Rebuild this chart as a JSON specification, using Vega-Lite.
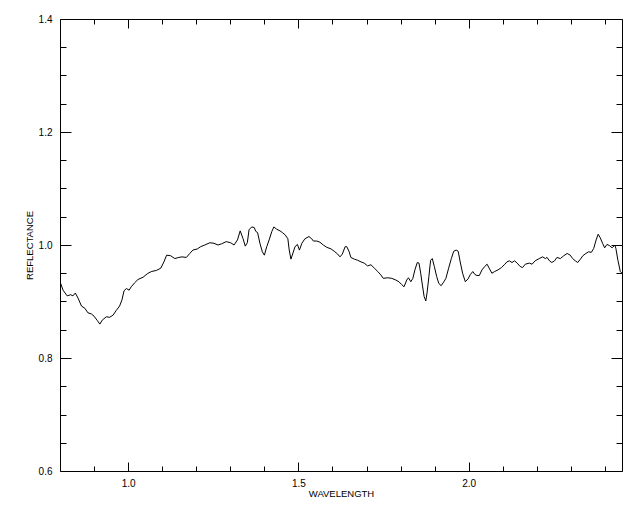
{
  "$schema": "https://vega.github.io/schema/vega-lite/v6.json",
  "width": 562,
  "height": 452,
  "autosize": {"type": "none"},
  "padding": {"left": 60, "top": 19, "right": 18, "bottom": 41},
  "background": "white",
  "config": {
    "view": {"stroke": "black", "strokeWidth": 1},
    "axis": {"grid": false, "domain": false, "tickColor": "black", "labelColor": "black", "titleColor": "black", "labelFont": "Liberation Sans", "titleFont": "Liberation Sans", "labelFontSize": 10, "titleFontSize": 9.5, "titleFontWeight": "normal", "tickWidth": 1}
  },
  "data": {"values": [
    {"w":0.802,"r":0.932},{"w":0.809,"r":0.920},{"w":0.821,"r":0.910},{"w":0.831,"r":0.912},{"w":0.838,"r":0.910},
    {"w":0.845,"r":0.915},{"w":0.853,"r":0.906},{"w":0.863,"r":0.892},{"w":0.873,"r":0.888},{"w":0.882,"r":0.880},
    {"w":0.892,"r":0.878},{"w":0.900,"r":0.874},{"w":0.910,"r":0.866},{"w":0.917,"r":0.860},{"w":0.924,"r":0.867},
    {"w":0.936,"r":0.873},{"w":0.946,"r":0.872},{"w":0.956,"r":0.876},{"w":0.965,"r":0.884},{"w":0.975,"r":0.892},
    {"w":0.982,"r":0.903},{"w":0.988,"r":0.919},{"w":0.995,"r":0.923},{"w":1.003,"r":0.920},{"w":1.009,"r":0.926},
    {"w":1.019,"r":0.933},{"w":1.029,"r":0.939},{"w":1.044,"r":0.943},{"w":1.056,"r":0.949},{"w":1.068,"r":0.953},
    {"w":1.083,"r":0.955},{"w":1.096,"r":0.959},{"w":1.105,"r":0.970},{"w":1.113,"r":0.982},{"w":1.125,"r":0.981},
    {"w":1.137,"r":0.976},{"w":1.149,"r":0.978},{"w":1.158,"r":0.979},{"w":1.171,"r":0.978},{"w":1.181,"r":0.985},
    {"w":1.190,"r":0.991},{"w":1.203,"r":0.993},{"w":1.213,"r":0.997},{"w":1.225,"r":1.000},{"w":1.240,"r":1.004},
    {"w":1.252,"r":1.003},{"w":1.264,"r":1.000},{"w":1.274,"r":1.002},{"w":1.288,"r":1.006},{"w":1.301,"r":1.004},
    {"w":1.311,"r":1.000},{"w":1.321,"r":1.009},{"w":1.329,"r":1.025},{"w":1.337,"r":1.012},{"w":1.344,"r":0.998},
    {"w":1.350,"r":1.004},{"w":1.355,"r":1.027},{"w":1.363,"r":1.032},{"w":1.370,"r":1.031},{"w":1.375,"r":1.024},
    {"w":1.380,"r":1.022},{"w":1.387,"r":1.003},{"w":1.394,"r":0.988},{"w":1.400,"r":0.982},{"w":1.407,"r":0.997},
    {"w":1.414,"r":1.009},{"w":1.422,"r":1.024},{"w":1.428,"r":1.032},{"w":1.436,"r":1.028},{"w":1.446,"r":1.025},
    {"w":1.453,"r":1.022},{"w":1.461,"r":1.018},{"w":1.469,"r":1.011},{"w":1.473,"r":0.991},{"w":1.478,"r":0.975},
    {"w":1.483,"r":0.984},{"w":1.490,"r":0.997},{"w":1.497,"r":1.001},{"w":1.503,"r":0.991},{"w":1.510,"r":1.003},
    {"w":1.519,"r":1.011},{"w":1.531,"r":1.015},{"w":1.539,"r":1.011},{"w":1.544,"r":1.007},{"w":1.554,"r":1.007},
    {"w":1.563,"r":1.005},{"w":1.573,"r":1.000},{"w":1.583,"r":0.996},{"w":1.596,"r":0.993},{"w":1.605,"r":0.989},
    {"w":1.615,"r":0.984},{"w":1.622,"r":0.979},{"w":1.629,"r":0.984},{"w":1.637,"r":0.997},{"w":1.642,"r":0.997},
    {"w":1.649,"r":0.988},{"w":1.654,"r":0.978},{"w":1.664,"r":0.975},{"w":1.674,"r":0.973},{"w":1.684,"r":0.970},
    {"w":1.693,"r":0.968},{"w":1.703,"r":0.963},{"w":1.713,"r":0.965},{"w":1.723,"r":0.959},{"w":1.733,"r":0.953},
    {"w":1.742,"r":0.947},{"w":1.749,"r":0.941},{"w":1.762,"r":0.942},{"w":1.774,"r":0.941},{"w":1.786,"r":0.938},
    {"w":1.795,"r":0.935},{"w":1.803,"r":0.930},{"w":1.810,"r":0.926},{"w":1.818,"r":0.938},{"w":1.823,"r":0.942},
    {"w":1.830,"r":0.935},{"w":1.836,"r":0.941},{"w":1.842,"r":0.956},{"w":1.849,"r":0.969},{"w":1.854,"r":0.968},
    {"w":1.859,"r":0.950},{"w":1.864,"r":0.929},{"w":1.869,"r":0.909},{"w":1.874,"r":0.901},{"w":1.878,"r":0.917},
    {"w":1.883,"r":0.944},{"w":1.888,"r":0.973},{"w":1.893,"r":0.976},{"w":1.899,"r":0.962},{"w":1.906,"r":0.944},
    {"w":1.912,"r":0.932},{"w":1.919,"r":0.928},{"w":1.927,"r":0.935},{"w":1.933,"r":0.941},{"w":1.941,"r":0.959},
    {"w":1.949,"r":0.976},{"w":1.956,"r":0.989},{"w":1.963,"r":0.991},{"w":1.969,"r":0.989},{"w":1.975,"r":0.970},
    {"w":1.982,"r":0.950},{"w":1.990,"r":0.935},{"w":1.998,"r":0.940},{"w":2.005,"r":0.948},{"w":2.012,"r":0.953},
    {"w":2.018,"r":0.948},{"w":2.024,"r":0.946},{"w":2.031,"r":0.946},{"w":2.039,"r":0.956},{"w":2.047,"r":0.962},
    {"w":2.054,"r":0.966},{"w":2.060,"r":0.959},{"w":2.068,"r":0.950},{"w":2.076,"r":0.953},{"w":2.086,"r":0.956},
    {"w":2.096,"r":0.960},{"w":2.106,"r":0.966},{"w":2.112,"r":0.970},{"w":2.119,"r":0.972},{"w":2.127,"r":0.969},
    {"w":2.135,"r":0.972},{"w":2.142,"r":0.968},{"w":2.151,"r":0.962},{"w":2.158,"r":0.960},{"w":2.166,"r":0.966},
    {"w":2.178,"r":0.968},{"w":2.186,"r":0.966},{"w":2.195,"r":0.972},{"w":2.207,"r":0.976},{"w":2.217,"r":0.979},
    {"w":2.225,"r":0.976},{"w":2.230,"r":0.978},{"w":2.237,"r":0.972},{"w":2.244,"r":0.969},{"w":2.252,"r":0.972},
    {"w":2.259,"r":0.978},{"w":2.269,"r":0.976},{"w":2.279,"r":0.981},{"w":2.289,"r":0.985},{"w":2.298,"r":0.982},
    {"w":2.305,"r":0.976},{"w":2.313,"r":0.972},{"w":2.320,"r":0.969},{"w":2.328,"r":0.975},{"w":2.335,"r":0.981},
    {"w":2.344,"r":0.985},{"w":2.352,"r":0.988},{"w":2.360,"r":0.987},{"w":2.367,"r":0.994},{"w":2.374,"r":1.009},
    {"w":2.380,"r":1.019},{"w":2.386,"r":1.013},{"w":2.393,"r":1.003},{"w":2.399,"r":0.995},{"w":2.406,"r":1.001},
    {"w":2.413,"r":0.999},{"w":2.421,"r":0.995},{"w":2.429,"r":1.000},{"w":2.432,"r":0.994},{"w":2.438,"r":0.973},
    {"w":2.445,"r":0.953},{"w":2.450,"r":0.950}
  ]},
  "resolve": {"axis": {"x": "independent", "y": "independent"}},
  "layer": [
    {
      "mark": {"type": "line", "color": "black", "strokeWidth": 1, "interpolate": "linear"},
      "encoding": {
        "x": {"field": "w", "type": "quantitative", "scale": {"domain": [0.8, 2.45], "nice": false, "zero": false},
              "axis": {"orient": "bottom", "values": [1.0, 1.5, 2.0], "format": ".1f", "ticks": false, "labelPadding": 7, "title": "WAVELENGTH", "titlePadding": 0}},
        "y": {"field": "r", "type": "quantitative", "scale": {"domain": [0.6, 1.4], "nice": false, "zero": false},
              "axis": {"orient": "left", "values": [0.6, 0.8, 1.0, 1.2, 1.4], "format": ".1f", "ticks": false, "labelPadding": 8, "title": "REFLECTANCE", "titlePadding": 4}}
      }
    },
    {
      "mark": {"type": "line", "opacity": 0},
      "encoding": {
        "x": {"field": "w", "type": "quantitative", "scale": {"domain": [0.8, 2.45], "nice": false, "zero": false},
              "axis": {"orient": "bottom", "values": [1.0, 1.5, 2.0], "labels": false, "tickSize": -9, "title": null}},
        "y": {"field": "r", "type": "quantitative", "scale": {"domain": [0.6, 1.4], "nice": false, "zero": false},
              "axis": {"orient": "left", "values": [0.6, 0.8, 1.0, 1.2, 1.4], "labels": false, "tickSize": -11, "title": null}}
      }
    },
    {
      "mark": {"type": "line", "opacity": 0},
      "encoding": {
        "x": {"field": "w", "type": "quantitative", "scale": {"domain": [0.8, 2.45], "nice": false, "zero": false},
              "axis": {"orient": "bottom", "values": [0.9, 1.1, 1.2, 1.3, 1.4, 1.6, 1.7, 1.8, 1.9, 2.1, 2.2, 2.3, 2.4], "labels": false, "tickSize": -5, "title": null}},
        "y": {"field": "r", "type": "quantitative", "scale": {"domain": [0.6, 1.4], "nice": false, "zero": false},
              "axis": {"orient": "left", "values": [0.65, 0.7, 0.75, 0.85, 0.9, 0.95, 1.05, 1.1, 1.15, 1.25, 1.3, 1.35], "labels": false, "tickSize": -6, "title": null}}
      }
    },
    {
      "mark": {"type": "line", "opacity": 0},
      "encoding": {
        "x": {"field": "w", "type": "quantitative", "scale": {"domain": [0.8, 2.45], "nice": false, "zero": false},
              "axis": {"orient": "top", "values": [1.0, 1.5, 2.0], "labels": false, "tickSize": -9, "title": null}},
        "y": {"field": "r", "type": "quantitative", "scale": {"domain": [0.6, 1.4], "nice": false, "zero": false},
              "axis": {"orient": "right", "values": [0.6, 0.8, 1.0, 1.2, 1.4], "labels": false, "tickSize": -11, "title": null}}
      }
    },
    {
      "mark": {"type": "line", "opacity": 0},
      "encoding": {
        "x": {"field": "w", "type": "quantitative", "scale": {"domain": [0.8, 2.45], "nice": false, "zero": false},
              "axis": {"orient": "top", "values": [0.9, 1.1, 1.2, 1.3, 1.4, 1.6, 1.7, 1.8, 1.9, 2.1, 2.2, 2.3, 2.4], "labels": false, "tickSize": -5, "title": null}},
        "y": {"field": "r", "type": "quantitative", "scale": {"domain": [0.6, 1.4], "nice": false, "zero": false},
              "axis": {"orient": "right", "values": [0.65, 0.7, 0.75, 0.85, 0.9, 0.95, 1.05, 1.1, 1.15, 1.25, 1.3, 1.35], "labels": false, "tickSize": -6, "title": null}}
      }
    }
  ]
}
